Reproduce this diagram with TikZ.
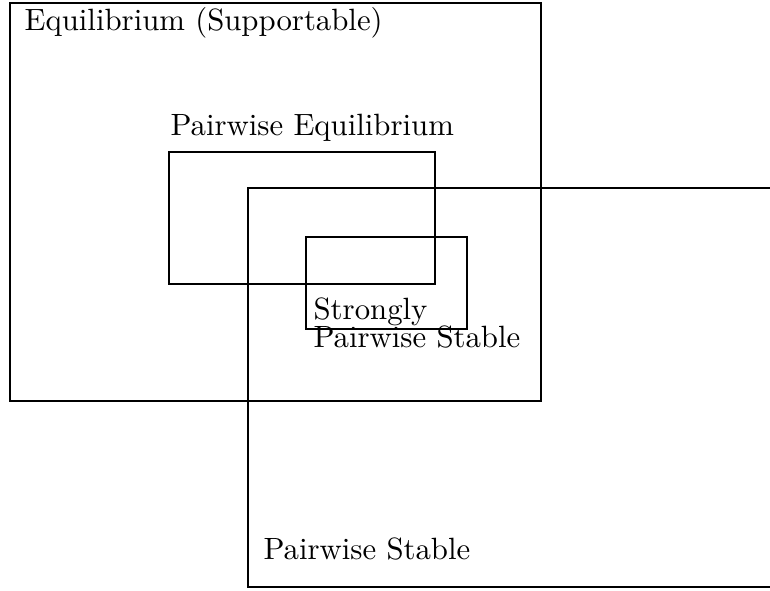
\documentclass[tikz,border=0pt]{standalone}
\begin{document}
\begin{tikzpicture}[x=0.325pt,y=-0.325pt,
  box/.style={draw,line width=0.75pt},
  lbl/.style={anchor=base west,inner sep=0pt,font=\normalsize}]
\useasboundingbox (0,0) rectangle (770,590);
\clip (0,0) rectangle (770,590);
% Equilibrium (Supportable)
\draw[box] (10,3) rectangle (541,401);
% Pairwise Equilibrium
\draw[box] (169,152) rectangle (435,284);
% Pairwise Stable
\draw[box] (248,188) rectangle (790,587);
% Strongly Pairwise Stable
\draw[box] (306,237) rectangle (467,329);
\node[lbl] (eq) at (24,31) {Equilibrium (Supportable)};
\node[lbl] (pe) at (170,136) {Pairwise Equilibrium};
\node[lbl] (sp1) at (313,319) {Strongly};
\node[lbl] (sp2) at (313,347) {Pairwise Stable};
\node[lbl] (ps) at (263,559) {Pairwise Stable};
\end{tikzpicture}
\end{document}
